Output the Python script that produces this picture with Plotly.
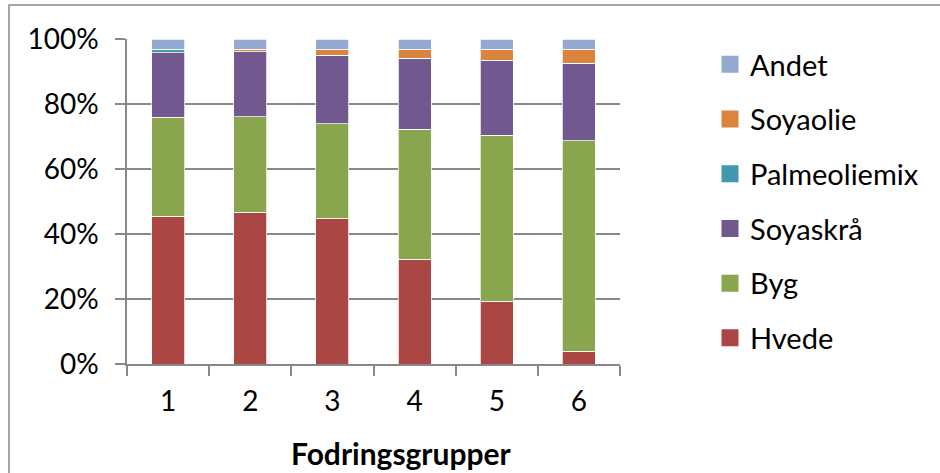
import plotly.graph_objects as go

groups = ["1", "2", "3", "4", "5", "6"]
hvede = [45.5, 46.7, 44.8, 32.2, 19.3, 4.0]
byg = [30.5, 29.4, 29.1, 40.0, 51.1, 64.7]
soyaskraa = [19.8, 20.0, 21.1, 21.9, 23.1, 23.9]
palmeoliemix = [1.1, 0.0, 0.0, 0.0, 0.0, 0.0]
soyaolie = [0.0, 0.7, 1.9, 2.8, 3.4, 4.3]
andet = [3.1, 3.2, 3.1, 3.1, 3.1, 3.1]

series = [
    ("Hvede", hvede, "#AA4643"),
    ("Byg", byg, "#89A54E"),
    ("Soyaskrå", soyaskraa, "#71588F"),
    ("Palmeoliemix", palmeoliemix, "#4198AF"),
    ("Soyaolie", soyaolie, "#DB843D"),
    ("Andet", andet, "#93A9CF"),
]

x_title = "Fodringsgrupper"

FONT = "Lato"
GRID = "#888888"

fig = go.Figure()
n = len(series)
for i, (name, vals, col) in enumerate(series):
    fig.add_trace(go.Bar(
        x=groups, y=vals, name=name, showlegend=False,
        marker=dict(color=col, line=dict(color="white", width=0.75)),
    ))
    # legend entry with a larger swatch
    fig.add_trace(go.Bar(
        x=[groups[0]], y=[None], name=name, legendgroup=name, showlegend=True,
        legendrank=n - i,
        marker=dict(color=col, line=dict(color=col, width=6)),
    ))

# plot area in pixels
L, R, T, B = 127, 620, 39, 364
W, H = 940, 473

def px_x(p):
    return (p - L) / (R - L)

def px_y(p):
    return (B - p) / (B - T)

fig.update_layout(
    width=W, height=H,
    margin=dict(l=L, r=W - R, t=T, b=H - B, pad=0, autoexpand=False),
    barmode="stack", bargap=0.6,
    paper_bgcolor="white", plot_bgcolor="white",
    font=dict(family=FONT, size=28, color="black"),
    legend=dict(
        x=px_x(710), y=px_y(39), xanchor="left", yanchor="top",
        traceorder="grouped", tracegroupgap=14, maxheight=440,
        font=dict(family=FONT, size=29, color="black"),
        bgcolor="rgba(0,0,0,0)",
    ),
    xaxis=dict(
        type="category", showgrid=False, showline=True, linecolor=GRID, linewidth=1.5,
        ticks="outside", ticklen=10, tickcolor=GRID, tickwidth=1.5, tickson="boundaries",
        tickfont=dict(family=FONT, size=28), ticklabelstandoff=12,
    ),
    yaxis=dict(
        range=[0, 100], dtick=20, ticksuffix="%", showgrid=True, gridcolor=GRID, gridwidth=1.5,
        zeroline=False, showline=True, linecolor=GRID, linewidth=1.5,
        ticks="outside", ticklen=10, tickcolor=GRID, tickwidth=1.5,
        tickfont=dict(family=FONT, size=28), ticklabelstandoff=11,
    ),
    annotations=[dict(
        text="<b>" + x_title + "</b>", xref="paper", yref="paper",
        x=px_x(401), y=px_y(453), xanchor="center", yanchor="middle",
        showarrow=False, font=dict(family=FONT, size=30, color="black"),
    )],
    shapes=[dict(
        type="rect", xref="paper", yref="paper",
        x0=px_x(9), x1=px_x(960), y0=px_y(490), y1=px_y(5),
        line=dict(color=GRID, width=1.5), fillcolor="rgba(0,0,0,0)", layer="above",
    )],
)

fig.write_html("out.html", config={"displayModeBar": False},
               post_script="document.body.style.margin='0';")
